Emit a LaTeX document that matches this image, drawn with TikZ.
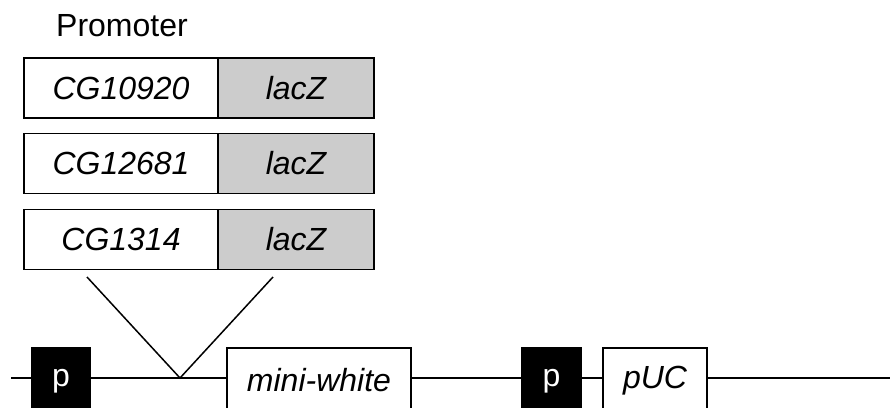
\documentclass[tikz,border=0pt]{standalone}
\usepackage{fontspec}
\setmainfont{Liberation Sans}
\definecolor{lacgray}{HTML}{CCCCCC}
\begin{document}
\begin{tikzpicture}[x=1pt,y=-1pt,
  every node/.style={font=\fontsize{32}{38}\selectfont},
  cell/.style={draw=black,line width=1.5pt,minimum height=60pt,inner sep=0pt,fill=white},
  gene/.style={cell,minimum width=194pt,font=\fontsize{32}{38}\selectfont\itshape},
  lac/.style={cell,minimum width=156pt,fill=lacgray,font=\fontsize{32}{38}\selectfont\itshape},
  lower/.style={cell,minimum height=66pt,font=\fontsize{32}{38}\selectfont\itshape},
  prom/.style={draw=black,fill=black,text=white,line width=1.5pt,minimum width=59pt,minimum height=66pt,inner sep=0pt},
  wire/.style={line width=1.5pt}]
\useasboundingbox (0,0) rectangle (890,407);
\node[anchor=base west,inner sep=0pt] (promlabel) at (56,36) {Promoter};
% construct boxes
\node[gene] (g1) at (121,88) {CG10920};
\node[lac]  (l1) at (296,88) {lacZ};
\node[gene] (g2) at (121,163.5) {CG12681};
\node[lac]  (l2) at (296,163.5) {lacZ};
\node[gene] (g3) at (121,239.5) {CG1314};
\node[lac]  (l3) at (296,239.5) {lacZ};
% backbone
\coordinate (start) at (11,378);
\coordinate (ins) at (180,378);
\coordinate (send) at (890,378);
\coordinate (vl) at (87,277);
\coordinate (vr) at (273,277);
\node[prom] (p1) at (61,381) {\raisebox{3pt}{p}};
\node[lower,minimum width=184pt] (mw) at (319,381) {\raisebox{3pt}{mini-white}};
\node[prom] (p2) at (551.5,381) {\raisebox{3pt}{p}};
\node[lower,minimum width=104pt] (puc) at (655,381) {\raisebox{3pt}{pUC}};
\draw[wire] (start) -- (start -| p1.west);
\draw[wire] (ins -| p1.east) -- (ins) -- (ins -| mw.west);
\draw[wire] (ins -| mw.east) -- (ins -| p2.west);
\draw[wire] (ins -| p2.east) -- (ins -| puc.west);
\draw[wire] (ins -| puc.east) -- (send);
\draw[wire] (vl) -- (ins) -- (vr);
\end{tikzpicture}
\end{document}
